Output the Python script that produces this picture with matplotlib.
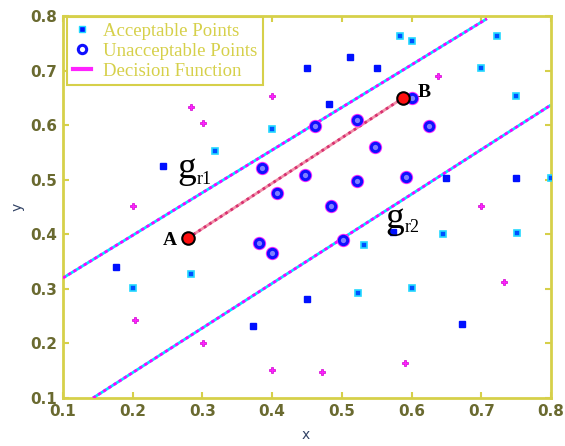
import matplotlib
matplotlib.use("Agg")
from matplotlib import pyplot as plt
from matplotlib.lines import Line2D
import numpy as np

# acceptable points (two shades as seen in the picture)
acc_blue_x = [0.512, 0.450, 0.550, 0.482, 0.243, 0.650, 0.750, 0.176, 0.450, 0.373, 0.672, 0.573]
acc_blue_y = [0.725, 0.705, 0.705, 0.639, 0.525, 0.503, 0.503, 0.340, 0.282, 0.232, 0.236, 0.404]
acc_cyan_x = [0.583, 0.601, 0.700, 0.723, 0.750, 0.400, 0.318, 0.800, 0.284, 0.200, 0.645, 0.751, 0.532, 0.523, 0.601]
acc_cyan_y = [0.763, 0.754, 0.705, 0.763, 0.653, 0.593, 0.553, 0.503, 0.327, 0.302, 0.401, 0.403, 0.381, 0.293, 0.302]

# unacceptable points (circles)
unacc_x = [0.386, 0.447, 0.407, 0.381, 0.400, 0.462, 0.522, 0.625, 0.548, 0.522, 0.592, 0.485, 0.502, 0.601]
unacc_y = [0.522, 0.509, 0.476, 0.384, 0.366, 0.599, 0.610, 0.599, 0.560, 0.498, 0.505, 0.452, 0.390, 0.650]

# magenta crosses
cross_x = [0.284, 0.400, 0.301, 0.200, 0.638, 0.700, 0.733, 0.203, 0.301, 0.400, 0.472, 0.591]
cross_y = [0.633, 0.653, 0.604, 0.452, 0.690, 0.452, 0.313, 0.243, 0.201, 0.152, 0.148, 0.164]

# boundary lines and decision segment
gr1_x = [0.100, 0.708]
gr1_y = [0.320, 0.795]
gr2_x = [0.143, 0.800]
gr2_y = [0.100, 0.637]
ab_x = [0.279, 0.588]
ab_y = [0.393, 0.650]

yellow = "#d6d04a"
tick_col = "#6a6a30"

fig = plt.figure(figsize=(5.65, 4.46), dpi=100)
ax = fig.add_axes([63/565, 48/446, 488/565, 382/446])

# boundary lines: cyan under a magenta dotted line
for xs, ys in [(gr1_x, gr1_y), (gr2_x, gr2_y)]:
    ax.plot(xs, ys, color="#00e8ff", linewidth=2.0, solid_capstyle="butt", zorder=2)
    ax.plot(xs, ys, color="#ff00ff", linewidth=2.0, linestyle=(0, (1.2, 1.0)), zorder=3)

# A-B decision function
ax.plot(ab_x, ab_y, color="#f090a8", linewidth=2.0, zorder=3)
ax.plot(ab_x, ab_y, color="#d83070", linewidth=2.0, linestyle=(0, (1, 1.3)), zorder=3)

ax.plot(acc_blue_x, acc_blue_y, linestyle="none", marker="s", markersize=4,
        markerfacecolor="#0010ff", markeredgecolor="#0010ff", zorder=4)
ax.plot(acc_cyan_x, acc_cyan_y, linestyle="none", marker="s", markersize=4.5,
        markerfacecolor="#0050ff", markeredgecolor="#22d8ff", markeredgewidth=1.2, zorder=4)

ax.plot(unacc_x, unacc_y, linestyle="none", marker="o", markersize=7,
        markerfacecolor="none", markeredgecolor="#ff30ff", markeredgewidth=2.6, zorder=4)
ax.plot(unacc_x, unacc_y, linestyle="none", marker="o", markersize=6,
        markerfacecolor="#8080ff", markeredgecolor="#1010ff", markeredgewidth=2.2, zorder=5)

ax.plot(cross_x, cross_y, linestyle="none", marker="P", markersize=5,
        markerfacecolor="#ff20ff", markeredgecolor="#d000d0", markeredgewidth=0.5, zorder=4)

# end points A and B
ax.plot([ab_x[0], ab_x[-1]], [ab_y[0], ab_y[-1]], linestyle="none", marker="o", markersize=9,
        markerfacecolor="#ff1010", markeredgecolor="black", markeredgewidth=1.5, zorder=6)

serif = "Liberation Serif"
ax.text(0.264, 0.388, "A", fontfamily=serif, fontweight="bold", fontsize=14,
        ha="right", va="center", zorder=7)
ax.text(0.609, 0.659, "B", fontfamily=serif, fontweight="bold", fontsize=14,
        ha="left", va="center", zorder=7)
ax.text(0.264, 0.503, "g", fontfamily=serif, fontsize=27, ha="left", va="baseline", zorder=7)
ax.text(0.292, 0.492, "r1", fontfamily=serif, fontsize=13, ha="left", va="baseline", zorder=7)
ax.text(0.563, 0.412, "g", fontfamily=serif, fontsize=27, ha="left", va="baseline", zorder=7)
ax.text(0.590, 0.405, "r2", fontfamily=serif, fontsize=13, ha="left", va="baseline", zorder=7)

ax.set_xlim(0.1, 0.8)
ax.set_ylim(0.1, 0.8)
ax.set_xticks(np.arange(0.1, 0.81, 0.1))
ax.set_yticks(np.arange(0.1, 0.81, 0.1))
ax.set_xticklabels(["0.1", "0.2", "0.3", "0.4", "0.5", "0.6", "0.7", "0.8"])
ax.set_yticklabels(["0.1", "0.2", "0.3", "0.4", "0.5", "0.6", "0.7", "0.8"])
ax.tick_params(direction="in", length=4, width=1.5, color=yellow, labelcolor=tick_col,
               top=True, right=True, labelsize=11, pad=4)
for lab in ax.get_xticklabels() + ax.get_yticklabels():
    lab.set_fontweight("bold")
for sp in ax.spines.values():
    sp.set_color(yellow)
    sp.set_linewidth(2)

fig.text(306/565, 1 - 435/446, "x", fontsize=10, color="#334466", ha="center", va="center")
fig.text(18/565, 1 - 207/446, "y", fontsize=10, color="#334466", ha="center", va="center",
         rotation=90)

handles = [
    Line2D([], [], linestyle="none", marker="s", markersize=4,
           markerfacecolor="#0010ff", markeredgecolor="#22d8ff"),
    Line2D([], [], linestyle="none", marker="o", markersize=6,
           markerfacecolor="none", markeredgecolor="#1010ff", markeredgewidth=2.2),
    Line2D([], [], color="#ff22ff", linewidth=3),
]
labels = ["Acceptable Points", "Unacceptable Points", "Decision Function"]
leg = ax.legend(handles, labels, loc="upper left", bbox_to_anchor=(4/488, 1 - 1/382),
                borderaxespad=0, fancybox=False, framealpha=1, edgecolor=yellow,
                prop={"family": serif, "size": 13.5}, labelspacing=0.15,
                handlelength=1.0, handletextpad=0.6, borderpad=0.3)
leg.get_frame().set_linewidth(1.5)
for t in leg.get_texts():
    t.set_color(yellow)

fig.savefig("out.png", dpi=100)
